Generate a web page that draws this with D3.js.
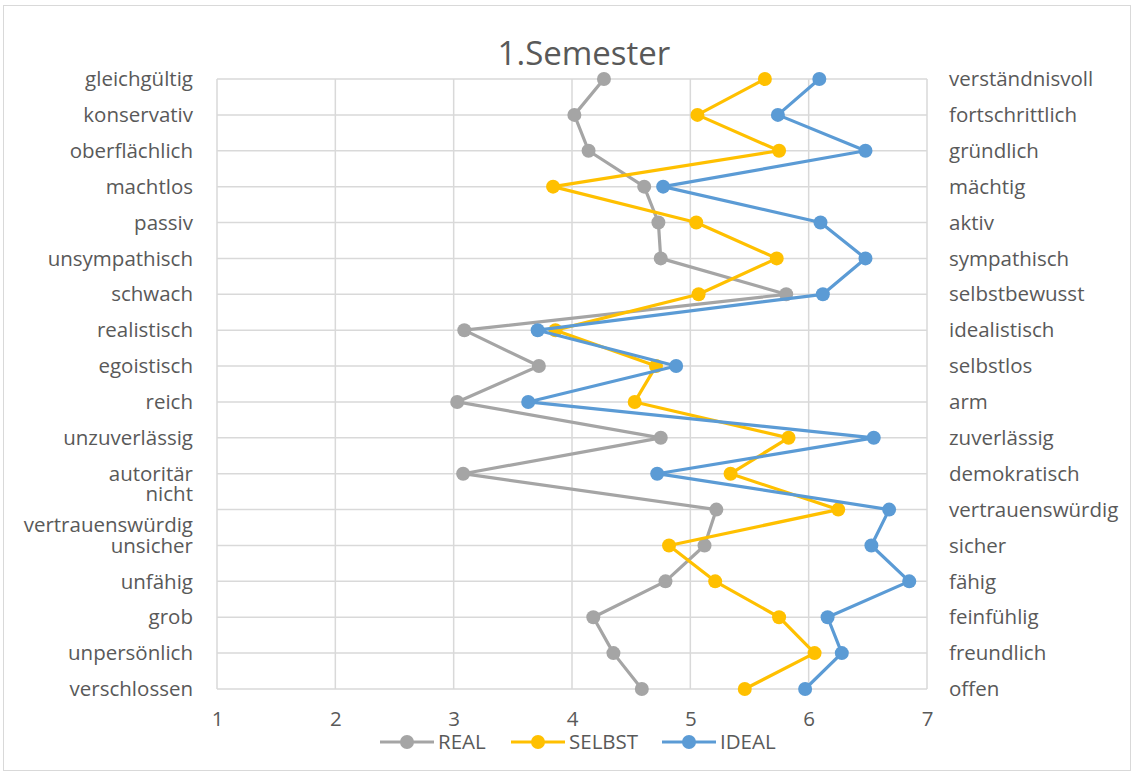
<!DOCTYPE html>
<html><head><meta charset="utf-8">
<script src="https://cdn.jsdelivr.net/npm/d3@7"></script>
<style>body{margin:0;background:#fff}svg text{font-family:"Open Sans",sans-serif;fill:#595959}</style>
</head><body><svg id="c" width="1135" height="776"></svg>
<script>
const leftLabels = ["gleichgültig","konservativ","oberflächlich","machtlos","passiv","unsympathisch","schwach","realistisch","egoistisch","reich","unzuverlässig","autoritär","nicht\nvertrauenswürdig","unsicher","unfähig","grob","unpersönlich","verschlossen"];
const rightLabels = ["verständnisvoll","fortschrittlich","gründlich","mächtig","aktiv","sympathisch","selbstbewusst","idealistisch","selbstlos","arm","zuverlässig","demokratisch","vertrauenswürdig","sicher","fähig","feinfühlig","freundlich","offen"];
const real   = [4.27,4.02,4.14,4.61,4.73,4.75,5.81,3.09,3.72,3.03,4.75,3.08,5.22,5.12,4.79,4.18,4.35,4.59];
const selbst = [5.63,5.06,5.75,3.84,5.05,5.73,5.07,3.86,4.71,4.53,5.83,5.34,6.25,4.82,5.21,5.75,6.05,5.46];
const ideal  = [6.09,5.74,6.48,4.77,6.10,6.48,6.12,3.71,4.88,3.63,6.55,4.72,6.68,6.53,6.85,6.16,6.28,5.97];
const xTicks = [1,2,3,4,5,6,7];
const seriesNames = ["REAL","SELBST","IDEAL"];
const seriesColors = ["#a5a5a5","#ffc000","#5b9bd5"];
const seriesData = [real, selbst, ideal];

const FS = 20.5;
const svg = d3.select("#c");
svg.append("rect").attr("x",3.5).attr("y",5.5).attr("width",1127).attr("height",765)
  .attr("fill","#fff").attr("stroke","#d9d9d9").attr("stroke-width",1);

const x = d3.scaleLinear().domain([1,7]).range([217,927]);
const y = d3.scalePoint().domain(d3.range(leftLabels.length)).range([79,689]);

// grid
svg.append("g").selectAll("line").data(xTicks).join("line")
  .attr("x1",d=>x(d)).attr("x2",d=>x(d)).attr("y1",y(0)).attr("y2",y(17))
  .attr("stroke","#d9d9d9").attr("stroke-width",1.5);
svg.append("g").selectAll("line").data(d3.range(leftLabels.length)).join("line")
  .attr("x1",x(1)).attr("x2",x(7)).attr("y1",d=>y(d)).attr("y2",d=>y(d))
  .attr("stroke","#d9d9d9").attr("stroke-width",1.5);

// x axis tick labels
const xa = svg.append("g").attr("transform",`translate(0,${y(17)+30})`)
  .call(d3.axisBottom(x).tickValues(xTicks).tickSize(0).tickPadding(0).tickFormat(d3.format("d")));
xa.select(".domain").remove();
xa.selectAll("text").attr("font-size",FS).attr("fill","#595959").attr("dy","0.32em").attr("font-family","'Open Sans',sans-serif");

// left labels
const lg = svg.append("g");
leftLabels.forEach((l,i)=>{
  const parts = l.split("\n");
  const t = lg.append("text").attr("text-anchor","end").attr("font-size",FS);
  parts.forEach((p,j)=>{
    t.append("tspan").attr("x",193).attr("y",y(i)+ (j-(parts.length-1)/2)*31).attr("dy","0.35em").text(p);
  });
});
svg.append("g").selectAll("text").data(rightLabels).join("text")
  .attr("x",949).attr("y",(d,i)=>y(i)).attr("dy","0.35em").attr("font-size",FS).text(d=>d);

// title
svg.append("text").attr("x",584).attr("y",53).attr("dy","0.35em").attr("text-anchor","middle")
  .attr("font-size",33).text("1.Semester");

// series
const line = d3.line().x(d=>x(d)).y((d,i)=>y(i));
seriesData.forEach((s,k)=>{
  svg.append("path").datum(s).attr("d",line).attr("fill","none")
    .attr("stroke",seriesColors[k]).attr("stroke-width",3.2).attr("stroke-linejoin","round");
  svg.append("g").selectAll("circle").data(s).join("circle")
    .attr("cx",d=>x(d)).attr("cy",(d,i)=>y(i)).attr("r",7).attr("fill",seriesColors[k]);
});

// legend
const legX = [380,511,662];
seriesNames.forEach((n,k)=>{
  const g = svg.append("g").attr("transform",`translate(${legX[k]},742)`);
  g.append("line").attr("x1",0).attr("x2",54).attr("stroke",seriesColors[k]).attr("stroke-width",3.2);
  g.append("circle").attr("cx",27).attr("r",7).attr("fill",seriesColors[k]);
  g.append("text").attr("x",58).attr("dy","0.35em").attr("font-size",FS).text(n);
});
</script></body></html>
